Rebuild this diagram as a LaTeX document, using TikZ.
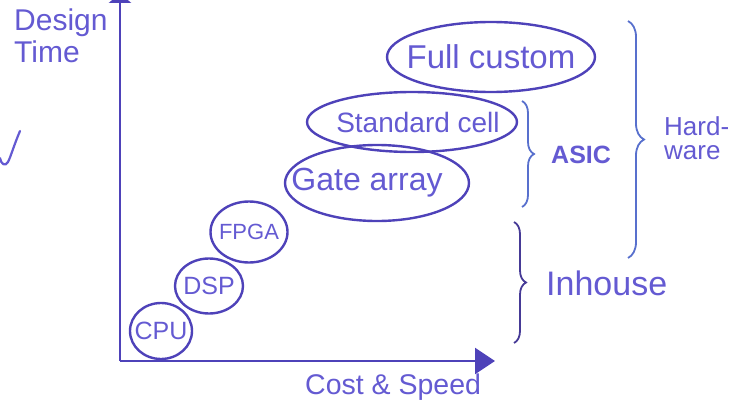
\documentclass[tikz,border=0pt]{standalone}
\usepackage{fontspec}
\setmainfont{Liberation Sans}
\usetikzlibrary{shapes.geometric,arrows.meta,decorations.pathreplacing}
\definecolor{ink}{RGB}{78,66,185}
\definecolor{pen}{RGB}{100,90,210}
\definecolor{bluepen}{RGB}{88,112,205}
\definecolor{darkpen}{RGB}{70,58,150}
\begin{document}
\begin{tikzpicture}[x=1pt,y=-1pt,
  blob/.style={draw=ink,line width=2.4pt,ellipse,inner sep=0pt},
  hand/.style={text=pen,inner sep=0pt},
  axis/.style={draw=ink,line width=2.6pt},
  curly/.style={line width=1.8pt,decorate,decoration={brace,amplitude=12pt}}]
\useasboundingbox (0,0) rectangle (734,412);

% axes
\coordinate (O) at (120,361);
\coordinate (ytop) at (120,-7);
\coordinate (xend) at (495,361);
\draw[axis,-{Triangle[length=20pt,width=26pt]}] (O) -- (xend);
\draw[axis,-{Triangle[length=10pt,width=22pt]}] (O) -- (ytop);

% axis labels
\node[hand,font=\fontsize{30}{30}\selectfont,anchor=north west] (ylab1) at (14,9) {Design};
\node[hand,font=\fontsize{30}{30}\selectfont,anchor=north west] (ylab2) at (14,41) {Time};
\node[hand,font=\fontsize{28.5}{30}\selectfont,anchor=west] (xlab) at (305,387) {Cost \& Speed};

% stroke of a letter at the page edge
\draw[pen,line width=2.2pt,line cap=round] (20,131) .. controls (14,145) and (11,156) .. (8,162) .. controls (5,167) and (1,164) .. (0,158);

% implementation styles: outlines
\node[blob,minimum width=62pt,minimum height=56pt] (cpu) at (161,331) {};
\node[blob,minimum width=68pt,minimum height=55pt] (dsp) at (209,286) {};
\node[blob,minimum width=77pt,minimum height=61pt] (fpga) at (249,232) {};
\node[blob,minimum width=184pt,minimum height=76pt] (gate) at (377,183) {};
\node[blob,minimum width=210pt,minimum height=60pt] (std) at (412,122) {};
\node[blob,minimum width=208pt,minimum height=70pt] (full) at (491,57) {};
% implementation styles: names
\node[hand,font=\fontsize{25}{26}\selectfont] (cpuT) at (cpu.center) {CPU};
\node[hand,font=\fontsize{25}{26}\selectfont] (dspT) at (dsp.center) {DSP};
\node[hand,font=\fontsize{22}{24}\selectfont] (fpgaT) at (fpga.center) {FPGA};
\node[hand,font=\fontsize{32}{33}\selectfont] (gateT) at ([xshift=-10pt]gate.center) {Gate array};
\node[hand,font=\fontsize{28}{29}\selectfont] (stdT) at ([xshift=6pt]std.center) {Standard cell};
\node[hand,font=\fontsize{33}{34}\selectfont] (fullT) at (full.center) {Full custom};

% groupings
\coordinate (asicT) at (522,101);
\coordinate (asicB) at (522,207);
\draw[curly,bluepen] (asicT) -- (asicB);
\node[hand,font=\bfseries\fontsize{25}{26}\selectfont,anchor=west] (asic) at (551,155) {ASIC};

\coordinate (hwT) at (628,21);
\coordinate (hwB) at (628,258);
\draw[curly,bluepen,decoration={amplitude=16pt}] (hwT) -- (hwB);
\node[hand,font=\fontsize{26}{26}\selectfont,anchor=west] (hw1) at (664,126) {Hard-};
\node[hand,font=\fontsize{26}{26}\selectfont,anchor=west] (hw2) at (664,153) {ware};

\coordinate (inT) at (514,222);
\coordinate (inB) at (514,343);
\draw[curly,darkpen] (inT) -- (inB);
\node[hand,font=\fontsize{34}{35}\selectfont,anchor=west] (inh) at (546,283) {Inhouse};
\end{tikzpicture}
\end{document}
